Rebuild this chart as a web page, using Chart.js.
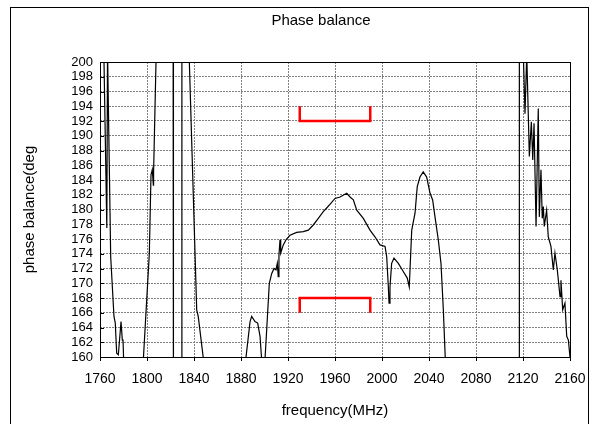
<!DOCTYPE html>
<html>
<head>
<meta charset="utf-8">
<script src="https://cdn.jsdelivr.net/npm/chart.js@4/dist/chart.umd.min.js"></script>
<style>
  body { margin: 0; background: #fff; }
  #wrap { width: 597px; height: 424px; }
</style>
</head>
<body>
<div id="wrap"><canvas id="myChart"></canvas></div>
<script>
// 측정된 위상 밸런스 (주파수 MHz, 위상 deg) - 그래프 밖으로 나가는 부분은 범위 밖 값으로 둔다
const freq = [
  1763.2, 1765.8, 1766.4, 1766.6, 1769.1, 1771.9, 1773.0, 1774.2, 1775.6, 1777.9,
  1779.0, 1779.6, 1781.0, 1796.5, 1797.0, 1802.0, 1803.4, 1804.5, 1805.4, 1805.6,
  1807.7, 1808.2, 1822.2, 1822.5, 1829.4, 1829.7, 1835.8, 1836.0, 1842.3, 1843.6,
  1848.2, 1848.5, 1883.8, 1884.0, 1887.7, 1889.1, 1891.9, 1894.2, 1896.2, 1897.6,
  1898.0, 1900.0, 1900.4, 1904.1, 1906.1, 1908.1, 1909.8, 1910.9, 1911.7, 1912.3,
  1913.2, 1913.8, 1914.6, 1916.0, 1918.3, 1921.7, 1927.4, 1933.0, 1937.3, 1941.5,
  1945.8, 1950.0, 1952.9, 1955.7, 1960.0, 1964.3, 1970.0, 1972.8, 1975.6, 1978.5,
  1984.1, 1989.8, 1994.0, 1998.3, 2002.6, 2004.0, 2005.4, 2006.0, 2006.8, 2008.2,
  2010.2, 2013.9, 2018.1, 2021.5, 2023.2, 2025.3, 2028.1, 2030.0, 2032.3, 2035.1,
  2038.0, 2040.9, 2043.1, 2045.1, 2047.9, 2050.2, 2052.2, 2053.9, 2054.2, 2116.7,
  2116.9, 2120.3, 2121.7, 2123.2, 2125.4, 2127.1, 2128.3, 2129.4, 2131.1, 2133.0,
  2133.9, 2135.3, 2136.4, 2137.3, 2138.1, 2140.1, 2141.5, 2143.8, 2145.8, 2147.2,
  2149.2, 2151.5, 2152.3, 2153.8, 2155.7, 2157.2, 2158.6, 2160.0
];
const phase = [
  202.0, 177.5, 201.0, 199.5, 173.6, 165.5, 164.6, 160.5, 160.3, 164.8,
  162.3, 162.3, 155.0, 155.0, 160.0, 174.1, 184.7, 185.4, 183.3, 185.0,
  200.3, 210.0, 210.0, 150.0, 150.0, 210.0, 210.0, 200.2, 166.4, 165.5,
  159.5, 155.0, 155.0, 159.6, 164.8, 165.5, 164.8, 164.6, 162.8, 159.6,
  155.0, 155.0, 159.6, 170.0, 171.3, 172.0, 171.8, 172.7, 170.9, 173.8,
  175.9, 174.1, 174.5, 175.2, 175.9, 176.5, 176.9, 177.0, 177.2, 177.9,
  178.8, 179.7, 180.2, 180.7, 181.5, 181.7, 182.2, 181.7, 181.3, 179.9,
  178.8, 177.2, 176.3, 175.2, 175.0, 173.6, 169.5, 167.3, 169.5, 172.7,
  173.4, 172.7, 171.6, 170.7, 169.5, 177.2, 179.5, 183.1, 184.4, 185.1,
  184.4, 182.2, 181.3, 179.0, 175.9, 172.7, 166.4, 159.6, 155.0, 155.0,
  210.0, 201.0, 193.0, 201.0, 187.2, 191.9, 186.7, 191.7, 177.7, 193.7,
  179.0, 185.4, 178.8, 180.4, 177.7, 179.9, 176.3, 175.0, 171.8, 174.1,
  171.8, 168.2, 170.4, 166.4, 167.3, 162.8, 162.3, 160.0
];
// 규격선 (빨간 괄호)
const specX = [1930, 1930, 1990, 1990];
const specUpper = [194, 192, 192, 194];
const specLower = [166, 168, 168, 166];

const chartTitle = 'Phase balance';

const toPoints = (xs, ys) => xs.map((x, i) => ({ x, y: ys[i] }));

Chart.defaults.font.family = "'Liberation Sans', Arial, sans-serif";
Chart.defaults.color = '#000';

// 바깥 테두리, 제목, 플롯 테두리를 그리는 플러그인
const framePlugin = {
  id: 'frame',
  beforeDraw(chart) {
    const c = chart.ctx;
    c.save();
    c.fillStyle = '#fff';
    c.fillRect(0, 0, chart.width, chart.height);
    c.strokeStyle = '#000';
    c.lineWidth = 1;
    c.strokeRect(10.5, 7.5, 578, 430);
    c.fillStyle = '#000';
    c.font = "15px 'Liberation Sans', Arial, sans-serif";
    c.textAlign = 'center';
    c.textBaseline = 'middle';
    c.fillText(chartTitle, 321, 21);
    c.restore();
  },
  afterDraw(chart) {
    const c = chart.ctx, a = chart.chartArea, ys = chart.scales.y;
    c.save();
    c.strokeStyle = '#000';
    c.lineWidth = 1;
    c.strokeRect(Math.round(a.left) + 0.5, Math.round(a.top) + 0.5,
      Math.round(a.right - a.left), Math.round(a.bottom - a.top));
    // y축 안쪽 눈금
    c.beginPath();
    ys.ticks.forEach(t => {
      const py = Math.round(ys.getPixelForValue(t.value)) + 0.5;
      c.moveTo(a.left, py);
      c.lineTo(a.left + 4, py);
    });
    c.stroke();
    c.restore();
  }
};

const ctx = document.querySelector('#myChart').getContext('2d');
const chart = new Chart(ctx, {
  type: 'scatter',
  data: {
    datasets: [{
      data: toPoints(freq, phase),
      showLine: true,
      borderColor: '#000',
      borderWidth: 1.2,
      pointRadius: 0,
      tension: 0
    }, {
      data: toPoints(specX, specUpper),
      showLine: true,
      borderColor: '#ff0000',
      borderWidth: 2.5,
      pointRadius: 0
    }, {
      data: toPoints(specX, specLower),
      showLine: true,
      borderColor: '#ff0000',
      borderWidth: 2.5,
      pointRadius: 0
    }]
  },
  options: {
    responsive: true,
    maintainAspectRatio: false,
    animation: false,
    layout: { padding: { left: 10, right: 27, top: 62, bottom: 0 } },
    scales: {
      x: {
        type: 'linear',
        min: 1760,
        max: 2160,
        afterFit(s) { s.height = 67; },
        ticks: {
          stepSize: 40, font: { size: 14 }, padding: 10, maxRotation: 0, autoSkip: false,
          callback: v => String(v)
        },
        grid: { color: '#808080', lineWidth: 1, tickLength: 4, tickColor: '#000' },
        border: { display: false, dash: [2, 1] },
        title: { display: true, text: 'frequency(MHz)', font: { size: 15 }, padding: { top: 0, bottom: 4 } }
      },
      y: {
        min: 160,
        max: 200,
        afterFit(s) { s.width = 90; },
        ticks: { stepSize: 2, font: { size: 13 }, padding: 7, autoSkip: false },
        grid: { color: '#808080', lineWidth: 1, drawTicks: false },
        border: { display: false, dash: [2, 1] },
        title: { display: true, text: 'phase balance(deg', font: { size: 15 }, padding: { top: 11, bottom: 0 } }
      }
    },
    plugins: {
      legend: { display: false },
      tooltip: { enabled: false },
      title: { display: false }
    }
  },
  plugins: [framePlugin]
});
</script>
</body>
</html>
